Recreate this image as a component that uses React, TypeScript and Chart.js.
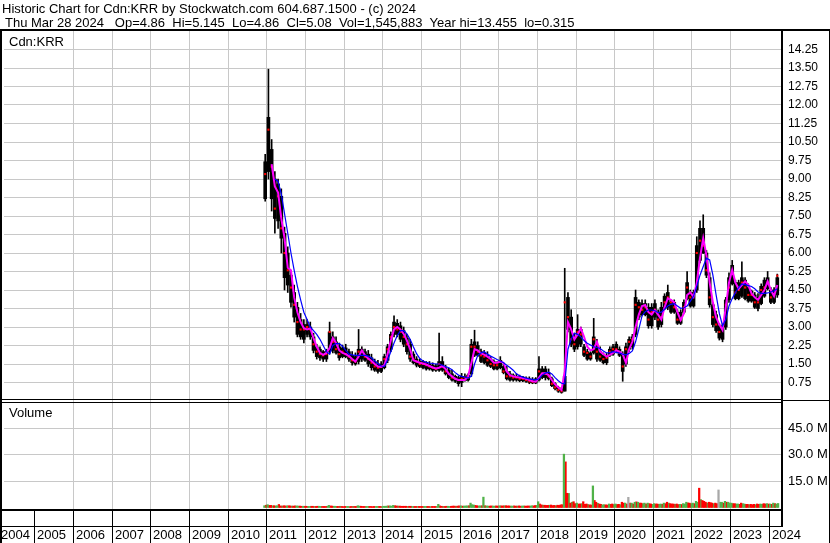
import React, { useEffect, useRef } from "react";
import { Chart, registerables } from "chart.js";

Chart.register(...registerables);

// ---------- data (monthly, first bar = Dec 2010) ----------
const START_YEAR = 2010;
const START_MONTH = 12;

// monthly extremes (thin wick)
const high = [
  10.0,
  13.45, 10.6, 9.3, 9.0, 8.6, 7.05, 6.25, 5.3, 4.7, 4.0, 3.55, 3.3,
  3.3, 3.2, 2.75, 2.3, 2.2, 2.05, 2.1, 3.2, 2.8, 2.6, 2.35, 2.27,
  2.3, 2.1, 2.0, 1.95, 2.9, 2.2, 2.1, 2.05, 1.9, 1.7, 1.65, 1.6,
  1.9, 2.3, 2.8, 3.45, 3.3, 3.2, 3.0, 2.7, 2.5, 2.0, 1.8, 1.7,
  1.65, 1.6, 1.6, 1.55, 1.5, 2.75, 1.8, 1.45, 1.33, 1.25, 1.05, 1.0,
  1.12, 1.1, 1.1, 2.5, 2.87, 2.4, 2.1, 2.05, 2.0, 1.8, 1.67, 1.6,
  1.8, 1.5, 1.4, 1.2, 1.1, 1.1, 1.05, 1.0, 0.98, 0.98, 0.95, 0.95,
  1.8, 1.4, 1.4, 1.3, 0.97, 0.75, 0.6, 0.55, 5.38, 4.4, 3.7, 2.75,
  3.5, 3.0, 2.3, 2.1, 2.0, 3.35, 2.5, 2.2, 1.95, 1.93, 2.2, 2.3,
  2.4, 2.2, 2.0, 2.35, 2.6, 2.7, 4.5, 4.1, 4.1, 4.1, 3.95, 3.95,
  4.1, 3.7, 4.0, 4.35, 4.7, 4.1, 4.1, 3.7, 3.7, 4.1, 5.25, 4.5,
  4.5, 6.66, 7.3, 7.55, 6.1, 5.2, 4.0, 3.65, 3.13, 3.13, 4.2, 5.2,
  5.7, 4.9, 4.9, 5.64, 5.0, 4.75, 4.5, 4.4, 4.35, 4.75, 5.0, 5.25,
  4.6, 4.6, 5.145,
];

const low = [
  8.1,
  9.0, 7.7, 6.8, 7.0, 6.0, 4.5, 4.4, 3.8, 3.2, 2.6, 2.5, 2.35,
  2.6, 2.5, 1.95, 1.7, 1.65, 1.6, 1.6, 1.9, 1.95, 1.9, 1.65, 1.75,
  1.75, 1.6, 1.45, 1.45, 1.5, 1.6, 1.6, 1.4, 1.25, 1.2, 1.13, 1.15,
  1.3, 1.55, 2.0, 2.6, 2.6, 2.4, 2.2, 1.9, 1.6, 1.5, 1.38, 1.35,
  1.3, 1.25, 1.25, 1.2, 1.2, 1.2, 1.2, 1.05, 0.9, 0.8, 0.75, 0.6,
  0.58, 0.8, 0.8, 1.0, 1.8, 1.8, 1.55, 1.5, 1.4, 1.35, 1.26, 1.26,
  1.3, 1.1, 0.85, 0.8, 0.8, 0.8, 0.78, 0.78, 0.75, 0.7, 0.7, 0.7,
  0.8, 0.9, 0.85, 0.85, 0.58, 0.45, 0.35, 0.315, 0.4, 2.8, 2.2, 2.0,
  2.1, 2.2, 1.8, 1.65, 1.65, 1.9, 1.6, 1.6, 1.5, 1.47, 1.8, 1.85,
  1.95, 1.8, 0.8, 1.4, 2.0, 2.1, 2.6, 3.3, 3.45, 3.45, 2.95, 2.95,
  3.3, 2.9, 3.0, 3.7, 3.7, 3.55, 3.55, 3.1, 3.1, 3.55, 4.1, 3.8,
  3.8, 4.4, 5.6, 5.98, 5.0, 3.8, 3.0, 2.78, 2.47, 2.4, 2.9, 4.0,
  4.7, 4.1, 4.1, 4.2, 4.1, 4.0, 4.0, 3.75, 3.65, 3.9, 4.2, 4.5,
  3.95, 3.95, 4.2,
];

// dense part of the monthly trading range (thick body)
const bodyHigh = [
  9.7,
  11.5, 10.2, 9.0, 8.8, 8.3, 6.8, 6.0, 5.1, 4.4, 3.8, 3.3, 3.1,
  3.1, 3.0, 2.6, 2.2, 2.1, 2.0, 2.0, 2.8, 2.6, 2.4, 2.2, 2.15,
  2.15, 2.0, 1.85, 1.8, 2.1, 2.1, 2.0, 1.9, 1.75, 1.6, 1.5, 1.5,
  1.8, 2.2, 2.7, 3.2, 3.15, 3.05, 2.85, 2.55, 2.3, 1.9, 1.7, 1.6,
  1.6, 1.55, 1.5, 1.45, 1.42, 1.6, 1.6, 1.35, 1.25, 1.1, 1.0, 0.95,
  1.0, 1.0, 1.05, 2.3, 2.4, 2.25, 2.0, 1.95, 1.85, 1.7, 1.6, 1.55,
  1.65, 1.4, 1.2, 1.1, 1.05, 1.0, 1.0, 0.97, 0.93, 0.9, 0.88, 0.9,
  1.3, 1.3, 1.3, 1.15, 0.9, 0.7, 0.55, 0.5, 1.0, 4.2, 3.4, 2.6,
  2.9, 2.9, 2.2, 2.0, 1.95, 2.6, 2.2, 2.0, 1.85, 1.85, 2.1, 2.2,
  2.3, 2.1, 1.9, 2.2, 2.5, 2.6, 4.2, 4.0, 3.95, 3.95, 3.8, 3.8,
  3.95, 3.6, 3.8, 4.25, 4.4, 4.0, 4.0, 3.6, 3.6, 4.0, 4.8, 4.4,
  4.4, 6.3, 7.0, 7.0, 6.0, 5.0, 3.9, 3.5, 3.05, 3.05, 4.1, 5.0,
  5.5, 4.8, 4.8, 5.0, 4.9, 4.6, 4.45, 4.3, 4.2, 4.65, 4.9, 5.0,
  4.5, 4.5, 5.0,
];

const bodyLow = [
  8.2,
  9.3, 8.2, 7.4, 7.3, 6.6, 5.0, 4.7, 4.0, 3.4, 2.7, 2.6, 2.5,
  2.7, 2.6, 2.05, 1.8, 1.75, 1.7, 1.7, 2.0, 2.05, 1.95, 1.75, 1.8,
  1.8, 1.7, 1.55, 1.5, 1.6, 1.7, 1.65, 1.5, 1.35, 1.25, 1.2, 1.2,
  1.35, 1.65, 2.1, 2.7, 2.7, 2.5, 2.3, 2.0, 1.7, 1.55, 1.45, 1.4,
  1.35, 1.3, 1.3, 1.25, 1.25, 1.25, 1.25, 1.1, 0.95, 0.85, 0.8, 0.7,
  0.75, 0.82, 0.85, 1.1, 1.85, 1.85, 1.6, 1.55, 1.45, 1.4, 1.3, 1.3,
  1.35, 1.15, 0.9, 0.85, 0.85, 0.85, 0.82, 0.82, 0.8, 0.75, 0.73, 0.73,
  0.85, 0.95, 0.95, 0.9, 0.62, 0.5, 0.4, 0.35, 0.4, 2.9, 2.3, 2.1,
  2.2, 2.3, 1.85, 1.7, 1.7, 1.95, 1.7, 1.65, 1.55, 1.55, 1.85, 1.9,
  2.0, 1.85, 1.2, 1.5, 2.1, 2.2, 2.7, 3.4, 3.5, 3.5, 3.05, 3.05,
  3.4, 3.0, 3.1, 3.75, 3.8, 3.6, 3.6, 3.15, 3.15, 3.6, 4.15, 3.85,
  3.85, 4.5, 5.7, 6.0, 5.1, 3.9, 3.1, 2.85, 2.55, 2.5, 3.0, 4.1,
  4.75, 4.15, 4.15, 4.25, 4.15, 4.05, 4.05, 3.8, 3.75, 3.95, 4.25, 4.55,
  4.0, 4.0, 4.3,
];

const close = [
  9.2,
  11.0, 9.5, 7.8, 8.3, 7.0, 6.0, 5.3, 4.6, 3.9, 3.2, 2.9, 2.9,
  3.0, 2.9, 2.3, 2.0, 1.9, 1.85, 1.9, 2.8, 2.4, 2.1, 1.9, 2.0,
  1.9, 1.8, 1.65, 1.6, 2.0, 2.0, 1.8, 1.7, 1.55, 1.4, 1.35, 1.4,
  1.7, 2.1, 2.6, 3.0, 2.9, 2.8, 2.6, 2.3, 1.8, 1.7, 1.6, 1.5,
  1.5, 1.45, 1.4, 1.35, 1.3, 1.5, 1.4, 1.2, 1.1, 0.95, 0.9, 0.85,
  0.9, 0.95, 0.95, 2.2, 2.2, 2.0, 1.85, 1.8, 1.65, 1.5, 1.45, 1.45,
  1.6, 1.2, 1.0, 1.0, 0.95, 0.95, 0.9, 0.9, 0.85, 0.8, 0.78, 0.8,
  1.2, 1.1, 1.1, 1.0, 0.7, 0.55, 0.45, 0.4, 4.0, 3.4, 2.5, 2.3,
  2.8, 2.7, 2.0, 1.95, 1.8, 2.5, 2.0, 1.8, 1.7, 1.75, 2.0, 2.1,
  2.1, 1.95, 1.4, 2.1, 2.4, 2.5, 3.9, 3.8, 3.7, 3.8, 3.3, 3.6,
  3.7, 3.3, 3.4, 4.0, 4.2, 4.0, 3.8, 3.3, 3.3, 3.8, 4.6, 4.2,
  4.3, 6.0, 6.5, 6.3, 5.3, 4.2, 3.4, 3.1, 2.8, 3.0, 3.9, 4.6,
  5.2, 4.4, 4.5, 4.8, 4.6, 4.3, 4.3, 4.0, 4.0, 4.5, 4.6, 4.8,
  4.2, 4.3, 5.08,
];

// short moving average (magenta)
const maFast = [
  null,
  null, 9.6, 8.7, 8.45, 7.4, 6.6, 5.4, 5.3, 4.2, 3.6, 3.2, 2.95,
  2.9, 2.95, 2.55, 2.2, 1.95, 1.87, 1.95, 2.15, 2.55, 2.35, 2.05, 1.95,
  1.9, 1.82, 1.7, 1.6, 1.8, 2.05, 1.85, 1.72, 1.62, 1.5, 1.4, 1.38,
  1.45, 1.9, 2.45, 2.9, 3.0, 2.9, 2.72, 2.45, 2.1, 1.65, 1.6, 1.55,
  1.52, 1.48, 1.42, 1.36, 1.32, 1.35, 1.42, 1.3, 1.1, 1.0, 0.9, 0.85,
  0.85, 0.85, 1.0, 1.53, 2.1, 2.05, 1.93, 1.88, 1.8, 1.7, 1.55, 1.55,
  1.6, 1.55, 1.2, 1.05, 1.0, 0.97, 0.95, 0.93, 0.9, 0.85, 0.8, 0.78,
  0.95, 1.12, 1.12, 1.05, 0.85, 0.68, 0.55, 0.45, 1.2, 3.2, 2.9, 2.5,
  2.7, 2.94, 2.6, 2.2, 2.05, 2.1, 2.4, 2.0, 1.9, 1.8, 1.87, 1.95,
  2.05, 2.0, 1.9, 1.55, 2.1, 2.4, 3.0, 3.5, 3.85, 3.89, 3.6, 3.5,
  3.69, 3.5, 3.3, 3.8, 4.16, 4.1, 4.0, 3.6, 3.28, 3.55, 4.3, 4.4,
  4.22, 4.8, 5.8, 6.6, 5.9, 4.8, 4.0, 3.4, 3.1, 2.88, 3.8, 4.8,
  5.31, 4.8, 4.55, 4.7, 4.85, 4.7, 4.36, 4.2, 4.1, 4.3, 4.5, 4.85,
  4.5, 4.25, 4.7,
];

// long moving average (blue)
const maSlow = [
  null,
  null, null, 9.0, 8.9, 8.4, 7.6, 6.8, 6.0, 5.3, 4.65, 4.1, 3.6,
  3.3, 3.0, 2.85, 2.7, 2.5, 2.25, 2.0, 1.9, 2.25, 2.33, 2.33, 2.22,
  2.05, 1.9, 1.87, 1.85, 1.85, 1.85, 1.85, 1.82, 1.75, 1.62, 1.52, 1.42,
  1.4, 1.65, 2.0, 2.35, 2.65, 2.85, 2.85, 2.72, 2.5, 2.2, 1.92, 1.72,
  1.62, 1.57, 1.54, 1.52, 1.5, 1.5, 1.45, 1.4, 1.35, 1.27, 1.15, 1.05,
  1.0, 0.97, 0.93, 1.0, 1.5, 1.85, 1.95, 2.0, 1.9, 1.82, 1.75, 1.68,
  1.62, 1.55, 1.45, 1.36, 1.25, 1.1, 1.02, 0.97, 0.93, 0.9, 0.88, 0.86,
  0.9, 1.05, 1.13, 1.17, 1.1, 0.95, 0.82, 0.72, 0.7, 2.1, 2.5, 2.75,
  2.7, 2.6, 2.45, 2.34, 2.27, 2.2, 2.17, 2.13, 2.03, 1.95, 1.96, 2.0,
  1.97, 1.94, 1.9, 1.87, 1.93, 2.03, 2.4, 2.9, 3.45, 3.62, 3.69, 3.69,
  3.66, 3.58, 3.6, 3.72, 3.85, 3.92, 3.95, 3.85, 3.76, 3.78, 3.85, 4.05,
  4.25, 4.65, 5.1, 5.45, 5.79, 5.72, 5.1, 4.3, 3.55, 3.05, 3.3, 3.85,
  4.15, 4.4, 4.6, 4.75, 4.72, 4.68, 4.64, 4.55, 4.42, 4.36, 4.36, 4.38,
  4.42, 4.47, 4.55,
];

// volume in millions, first and second half of each month
const volFirstHalf = [
  1.0,
  1.6, 1.2, 1.0, 1.0, 0.9, 1.0, 0.9, 0.9, 0.8, 0.9, 0.8, 0.7,
  0.7, 0.6, 0.7, 0.6, 0.7, 0.6, 0.6, 1.2, 0.8, 0.7, 0.6, 0.6,
  0.6, 0.6, 0.6, 0.6, 1.0, 0.7, 0.6, 0.6, 0.6, 0.6, 0.6, 0.6,
  0.7, 0.8, 0.9, 1.2, 0.9, 0.8, 0.7, 0.7, 0.7, 0.6, 0.6, 0.6,
  0.6, 0.6, 0.6, 0.6, 0.6, 1.8, 0.7, 0.6, 0.7, 0.7, 0.8, 0.8,
  0.9, 0.8, 0.9, 2.5, 1.4, 1.0, 0.9, 5.9, 0.9, 0.8, 0.8, 0.9,
  1.0, 0.9, 1.0, 0.9, 0.8, 0.8, 0.9, 0.8, 0.8, 0.9, 1.0, 1.1,
  3.3, 1.5, 1.3, 1.2, 1.4, 1.2, 1.3, 1.5, 30.4, 8.1, 2.5, 3.3,
  2.5, 2.0, 3.3, 2.0, 1.5, 12.3, 3.0, 2.0, 1.5, 1.5, 2.0, 2.0,
  2.0, 1.8, 3.0, 2.5, 5.8, 2.5, 3.0, 3.0, 2.5, 2.5, 2.5, 2.0,
  2.2, 2.0, 2.0, 2.5, 3.0, 2.2, 2.0, 2.0, 1.8, 2.2, 3.0, 2.5,
  2.5, 3.5, 11.0, 4.0, 3.0, 3.0, 2.5, 2.5, 10.0, 3.0, 3.5, 3.0,
  2.5, 2.2, 2.0, 2.5, 2.0, 1.8, 1.8, 1.8, 2.0, 2.0, 2.2, 2.2,
  2.0, 2.5, 2.0,
];

const volSecondHalf = [
  1.3,
  1.2, 1.0, 0.9, 1.7, 0.8, 0.9, 1.0, 0.8, 0.9, 0.8, 0.7, 0.7,
  0.6, 0.7, 0.6, 0.7, 0.6, 0.6, 0.7, 0.9, 0.7, 0.6, 0.7, 0.5,
  0.6, 0.5, 0.6, 0.6, 0.8, 0.6, 0.6, 0.6, 0.5, 0.6, 0.6, 0.5,
  0.7, 0.9, 0.8, 1.0, 0.8, 0.7, 0.7, 0.6, 0.7, 0.6, 0.6, 0.6,
  0.6, 0.6, 0.5, 0.6, 0.6, 0.9, 0.6, 0.7, 0.6, 0.8, 0.7, 0.9,
  0.8, 0.9, 1.0, 1.6, 1.2, 0.9, 1.0, 1.0, 0.8, 0.9, 0.8, 0.8,
  0.9, 1.0, 0.9, 0.8, 0.9, 0.8, 0.8, 0.9, 0.8, 0.8, 0.9, 1.2,
  2.0, 1.3, 1.2, 1.3, 1.1, 1.0, 1.2, 1.6, 26.0, 8.0, 3.0, 2.2,
  2.0, 2.2, 1.8, 1.7, 1.4, 4.0, 2.4, 1.8, 1.6, 1.4, 1.8, 1.7,
  1.7, 1.6, 2.5, 2.0, 2.5, 2.0, 3.2, 2.5, 2.2, 2.0, 2.2, 1.8,
  2.0, 1.8, 1.8, 2.2, 2.5, 2.0, 1.8, 1.7, 1.7, 2.0, 2.6, 2.2,
  2.2, 3.0, 4.5, 3.5, 2.5, 2.8, 2.2, 2.2, 3.0, 2.5, 3.0, 2.5,
  2.2, 2.0, 1.8, 2.2, 1.8, 1.6, 1.6, 1.6, 1.8, 1.8, 2.0, 2.0,
  1.8, 2.2, 2.3,
];

// g = up (green), r = down (red), n = unchanged (grey)
const dirFirstHalf = [
  "g",
  "grrgrrgrrgrg", "rgrrgrrgrgrr", "rgrrgrrgrrgr", "ggggrrrrrgrr",
  "rgrrrgrrgrrr", "gggggrgggrgr", "grrrgrrgrrgr", "grrrrrrrgrrr",
  "grrrrgrrgrgr", "grrgngggrggr", "grggrrrrgggr", "ggrrrrrrnggg",
  "grgrgrrrrgrg", "ggg",
].join("");
const dirSecondHalf = [
  "r",
  "rggrgrrgrgrr", "grgrgrgrgrgr", "grgrgrgrrgrg", "grgrgrrgrrgr",
  "grgrgrgrgrgr", "rgrgrgrrgrgr", "rgrgrgrgrgrg", "rgrgrgrrrggr",
  "rgrgrrgrgrrg", "rgrrrrrrgrrg", "rgrrgrgrrgrg", "rggrgrgrgrrg",
  "rgrgrgrgrgrr", "rrg",
].join("");

const yearLabels = [
  "2004", "2005", "2006", "2007", "2008", "2009", "2010", "2011", "2012", "2013",
  "2014", "2015", "2016", "2017", "2018", "2019", "2020", "2021", "2022", "2023", "2024",
];
const volumeTickValues = [15, 30, 45];

const headerLine1 = "Historic Chart for Cdn:KRR by Stockwatch.com 604.687.1500 - (c) 2024";
const headerLine2 = "Thu Mar 28 2024   Op=4.86  Hi=5.145  Lo=4.86  Cl=5.08  Vol=1,545,883  Year hi=13.455  lo=0.315";
const symbolLabel = "Cdn:KRR";
const volumeLabel = "Volume";

// ---------- layout / style ----------
const W = 830;
const H = 543;
const X_MIN = 2004.2;
const X_MAX = 2024.33;
const FONT = 'Arial, "Liberation Sans", sans-serif';
const GRID = "#c8c8c8";
const GREEN = "rgb(80,178,72)";
const RED = "#ff0000";
const GREY = "#a8a8a8";

function monthStart(i: number) {
  return START_YEAR + (START_MONTH - 1 + i) / 12;
}
function dirColor(c: string) {
  return c === "g" ? GREEN : c === "r" ? RED : GREY;
}

const framePlugin = {
  id: "stockwatchFrame",
  afterDraw(chart: any) {
    const ctx = chart.ctx as CanvasRenderingContext2D;
    const xs = chart.scales.x;
    ctx.save();
    ctx.fillStyle = "#000";
    ctx.textBaseline = "alphabetic";
    ctx.textAlign = "left";
    ctx.font = `13px ${FONT}`;
    ctx.fillText(headerLine1, 2, 13);
    ctx.fillText(headerLine2, 5, 27);

    // frame lines
    ctx.fillRect(0, 29, W, 2);
    ctx.fillRect(0, 29, 2, H - 29);
    ctx.fillRect(781, 29, 2, 498);
    ctx.fillRect(0, 399, 782, 1);
    ctx.fillRect(0, 402, 782, 1);
    ctx.fillRect(782, 400, W - 782, 1);
    ctx.fillRect(0, 509, 782, 2);
    ctx.fillRect(0, 526, 782, 1);
    ctx.fillRect(W - 1, 29, 1, H - 29);

    // panel labels
    ctx.fillText(symbolLabel, 9, 46);
    ctx.fillText(volumeLabel, 9, 417);

    // year row
    yearLabels.forEach((lab) => {
      const px = xs.getPixelForValue(Number(lab));
      const lx = Math.round(px - 0.5);
      if (lx > 2 && lx < 781) ctx.fillRect(lx, 511, 1, H - 511);
      ctx.fillText(lab, Math.max(lx + 3, 1), 539);
    });
    ctx.restore();
  },
};

export default function App() {
  const ref = useRef<HTMLCanvasElement | null>(null);

  useEffect(() => {
    document.body.style.margin = "0";
    const canvas = ref.current;
    if (!canvas) return;

    const mid = (i: number) => monthStart(i) + 1 / 24;
    const wicks = high.map((h, i) => ({ x: mid(i), y: [low[i], h] }));
    const bodies = bodyHigh.map((h, i) => ({ x: mid(i), y: [bodyLow[i], h] }));
    const closes = close.map((c, i) => ({ x: mid(i), y: c }));
    const fast = maFast
      .map((v, i) => ({ x: mid(i), y: v }))
      .filter((p) => p.y !== null);
    const slow = maSlow
      .map((v, i) => ({ x: mid(i), y: v }))
      .filter((p) => p.y !== null);
    const volA = volFirstHalf.map((v, i) => ({ x: monthStart(i) + 1 / 48, y: v }));
    const volB = volSecondHalf.map((v, i) => ({ x: monthStart(i) + 3 / 48, y: v }));

    Chart.defaults.font.family = FONT;

    const chart = new Chart(canvas, {
      type: "line",
      data: {
        datasets: [
          {
            type: "line",
            data: slow as any,
            yAxisID: "y",
            borderColor: "#0000ff",
            borderWidth: 1.2,
            pointRadius: 0,
            tension: 0,
            order: 0,
          },
          {
            type: "line",
            data: fast as any,
            yAxisID: "y",
            borderColor: "#ff00ff",
            borderWidth: 2,
            pointRadius: 0,
            tension: 0,
            order: 1,
          },
          {
            type: "line",
            data: closes as any,
            yAxisID: "y",
            showLine: false,
            pointStyle: "rect",
            pointRadius: 1.5,
            pointBorderWidth: 0,
            pointBackgroundColor: RED,
            pointBorderColor: RED,
            order: 2,
          },
          {
            type: "bar",
            data: bodies as any,
            yAxisID: "y",
            backgroundColor: "#000",
            borderWidth: 0,
            barThickness: 3,
            grouped: false,
            order: 3,
          },
          {
            type: "bar",
            data: wicks as any,
            yAxisID: "y",
            backgroundColor: "#000",
            borderWidth: 0,
            barThickness: 1,
            grouped: false,
            order: 4,
          },
          {
            type: "bar",
            data: volA as any,
            yAxisID: "yv",
            backgroundColor: volFirstHalf.map((_, i) => dirColor(dirFirstHalf[i])),
            borderWidth: 0,
            barThickness: 1.6,
            grouped: false,
            order: 5,
          },
          {
            type: "bar",
            data: volB as any,
            yAxisID: "yv",
            backgroundColor: volSecondHalf.map((_, i) => dirColor(dirSecondHalf[i])),
            borderWidth: 0,
            barThickness: 1.6,
            grouped: false,
            order: 6,
          },
        ] as any,
      },
      options: {
        responsive: false,
        animation: false,
        devicePixelRatio: 1,
        events: [],
        layout: { padding: { top: 31, bottom: 33, left: 0, right: 0 } },
        plugins: { legend: { display: false }, tooltip: { enabled: false } },
        scales: {
          x: {
            type: "linear",
            min: X_MIN,
            max: X_MAX,
            offset: false,
            ticks: { display: false, stepSize: 1 },
            grid: {
              drawTicks: false,
              offset: false,
              color: (c: any) => (Number.isInteger(c.tick?.value) ? GRID : "rgba(0,0,0,0)"),
            },
            border: { display: false },
          },
          y: {
            type: "linear",
            position: "right",
            stack: "panels",
            stackWeight: 370,
            min: 0,
            max: 15,
            ticks: {
              stepSize: 0.75,
              autoSkip: false,
              padding: 6,
              color: "#000",
              font: { size: 12, family: FONT },
              callback: (v: any) => (v > 0.01 && v < 14.99 ? Number(v).toFixed(2) : ""),
            },
            grid: {
              drawTicks: false,
              color: (c: any) =>
                c.tick && c.tick.value > 0.01 && c.tick.value < 14.99 ? GRID : "rgba(0,0,0,0)",
            },
            border: { display: false },
            afterFit: (s: any) => {
              s.width = 48;
            },
          },
          yv: {
            type: "linear",
            position: "right",
            stack: "panels",
            stackWeight: 109,
            min: -1.43,
            max: 60.7,
            ticks: {
              stepSize: 15,
              autoSkip: false,
              padding: 6,
              color: "#000",
              font: { size: 13, family: FONT },
              callback: (v: any) =>
                volumeTickValues.includes(Number(v)) ? Number(v).toFixed(1) + " M" : "",
            },
            grid: {
              drawTicks: false,
              color: (c: any) =>
                c.tick && volumeTickValues.includes(c.tick.value) ? GRID : "rgba(0,0,0,0)",
            },
            border: { display: false },
            afterFit: (s: any) => {
              s.width = 48;
            },
          },
        } as any,
      },
      plugins: [framePlugin],
    });

    return () => chart.destroy();
  }, []);

  return (
    <div style={{ width: W, height: H, background: "#fff" }}>
      <canvas ref={ref} width={W} height={H} style={{ display: "block", width: W, height: H }} />
    </div>
  );
}
